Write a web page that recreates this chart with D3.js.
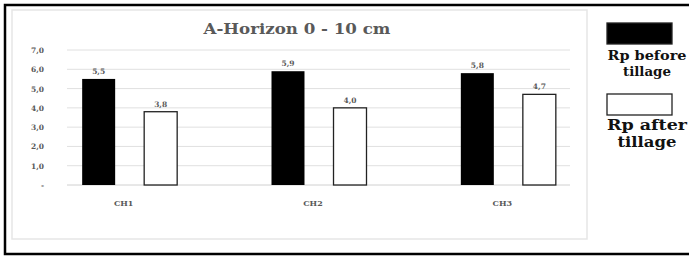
<!DOCTYPE html>
<html>
<head>
<meta charset="utf-8">
<script src="https://cdn.jsdelivr.net/npm/d3@7"></script>
<style>
  body { margin: 0; background: #fff; }
  svg { display: block; }
  .tick-label, .cat-label, .val-label { font-family: "DejaVu Serif", serif; font-weight: bold; fill: #595959; }
</style>
</head>
<body>
<div id="chart"></div>
<script>
const categories = ['CH1', 'CH2', 'CH3'];
const series = ['Rp before tillage', 'Rp after tillage'];
const before = [5.5, 5.9, 5.8];
const after = [3.8, 4.0, 4.7];
const yTicks = [0, 1, 2, 3, 4, 5, 6, 7];
const title = 'A-Horizon 0 - 10 cm';

const W = 689, H = 257;
const fmt = v => v === 0 ? '-' : v.toFixed(1).replace('.', ',');

const svg = d3.select('#chart').append('svg')
  .attr('width', W)
  .attr('height', H);

// outer black frame (right edge runs off the picture)
svg.append('rect')
  .attr('x', 5).attr('y', 5)
  .attr('width', W + 10).attr('height', 249)
  .attr('fill', 'none')
  .attr('stroke', '#000')
  .attr('stroke-width', 2.5);

// chart area box
svg.append('rect')
  .attr('x', 12).attr('y', 10)
  .attr('width', 575).attr('height', 229)
  .attr('fill', 'none')
  .attr('stroke', '#e6e6e6')
  .attr('stroke-width', 1.5);

// title
svg.append('text')
  .attr('x', 297).attr('y', 34)
  .attr('text-anchor', 'middle')
  .attr('textLength', 187)
  .attr('lengthAdjust', 'spacingAndGlyphs')
  .style('font-family', '"DejaVu Serif", serif')
  .style('font-weight', 'bold')
  .style('font-size', '15px')
  .style('fill', '#595959')
  .text(title);

// scales
const y = d3.scaleLinear().domain([0, 7]).range([185, 50]);
const x = d3.scaleBand().domain(categories).range([35, 603]);
const xs = d3.scaleBand().domain(series).range([-47.5, 47.5]).paddingInner(0.468);

// gridlines
svg.append('g')
  .selectAll('line')
  .data(yTicks.filter(d => d > 0))
  .enter().append('line')
    .attr('x1', 67).attr('x2', 570)
    .attr('y1', d => y(d)).attr('y2', d => y(d))
    .attr('stroke', '#e0e0e0')
    .attr('stroke-width', 1);

// baseline
svg.append('line')
  .attr('x1', 67).attr('x2', 570)
  .attr('y1', y(0)).attr('y2', y(0))
  .attr('stroke', '#d0d0d0');

// y labels
svg.append('g')
  .selectAll('text')
  .data(yTicks)
  .enter().append('text')
    .attr('class', 'tick-label')
    .attr('x', 44)
    .attr('y', d => y(d) + 3)
    .attr('text-anchor', 'end')
    .style('font-size', '7.5px')
    .text(fmt);

// bars
const groups = svg.append('g')
  .selectAll('g')
  .data(categories)
  .enter().append('g')
    .attr('transform', d => `translate(${x(d) + x.bandwidth() / 2},0)`);

const rows = categories.map((c, i) => [
  { s: series[0], v: before[i] },
  { s: series[1], v: after[i] }
]);

groups.selectAll('rect')
  .data((d, i) => rows[i])
  .enter().append('rect')
    .attr('x', d => xs(d.s))
    .attr('y', d => y(d.v))
    .attr('width', xs.bandwidth())
    .attr('height', d => y(0) - y(d.v))
    .attr('fill', d => d.s === series[0] ? '#000' : '#fff')
    .attr('stroke', d => d.s === series[0] ? 'none' : '#222')
    .attr('stroke-width', 1.3);

groups.selectAll('.val-label')
  .data((d, i) => rows[i])
  .enter().append('text')
    .attr('class', 'val-label')
    .attr('x', d => xs(d.s) + xs.bandwidth() / 2)
    .attr('y', d => y(d.v) - 5)
    .attr('text-anchor', 'middle')
    .style('font-size', '7.5px')
    .text(d => fmt(d.v));

// category labels
groups.append('text')
  .attr('class', 'cat-label')
  .attr('x', -6)
  .attr('y', 206)
  .attr('text-anchor', 'middle')
  .style('font-size', '8px')
  .text(d => d);

// legend
const legend = svg.append('g').attr('transform', 'translate(607,0)');
const legendItems = [
  { fill: '#000', y: 23, lines: ['Rp before', 'tillage'], size: 12, ty: [60, 76], len: [79, 48] },
  { fill: '#fff', y: 94, lines: ['Rp after', 'tillage'], size: 14, ty: [130, 147], len: [80, 59] }
];
legendItems.forEach(it => {
  legend.append('rect')
    .attr('x', 0).attr('y', it.y)
    .attr('width', 65).attr('height', 21)
    .attr('fill', it.fill)
    .attr('stroke', '#222')
    .attr('stroke-width', 1.3);
  it.lines.forEach((t, j) => {
    legend.append('text')
      .attr('x', 40).attr('y', it.ty[j])
      .attr('text-anchor', 'middle')
      .attr('textLength', it.len[j])
      .attr('lengthAdjust', 'spacingAndGlyphs')
      .style('font-family', '"DejaVu Serif", serif')
      .style('font-weight', 'bold')
      .style('font-size', it.size + 'px')
      .style('fill', '#111')
      .text(t);
  });
});
</script>
</body>
</html>
